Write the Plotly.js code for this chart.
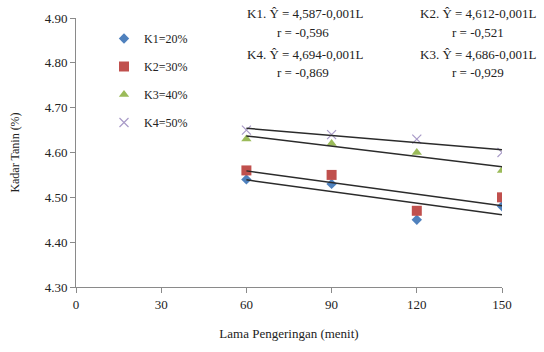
<!DOCTYPE html>
<html>
<head>
<meta charset="utf-8">
<script src="https://cdn.plot.ly/plotly-3.0.1.min.js"></script>
<style>html,body{margin:0;padding:0;background:#fff;}#chart{width:544px;height:352px;}</style>
</head>
<body>
<div id="chart"></div>
<script>
// Data
const lamaPengeringan = [60, 90, 120, 150];
const seriesNames = ['K1=20%', 'K2=30%', 'K3=40%', 'K4=50%'];
const k1 = [4.54, 4.53, 4.45, 4.48];
const k2 = [4.56, 4.55, 4.47, 4.50];
const k3 = [4.63, 4.62, 4.60, 4.56];
const k4 = [4.65, 4.64, 4.63, 4.60];
const xTicks = [0, 30, 60, 90, 120, 150];
const yTicks = [4.30, 4.40, 4.50, 4.60, 4.70, 4.80, 4.90];
const eqLabels = ['K1. Ŷ = 4,587-0,001L', 'r = -0,596', 'K4. Ŷ = 4,694-0,001L', 'r = -0,869',
                  'K2. Ŷ = 4,612-0,001L', 'r = -0,521', 'K3. Ŷ = 4,686-0,001L', 'r = -0,929'];

const seriesData = [k1, k2, k3, k4];
const colors = ['#4F81BD', '#C0504D', '#9BBB59', '#A99BC8'];
const symbols = ['diamond', 'square', 'triangle-up', 'x-thin'];
const sizes = [8, 10, 9, 9];

function linFit(x, y) {
  const n = x.length;
  const mx = x.reduce((a, b) => a + b, 0) / n;
  const my = y.reduce((a, b) => a + b, 0) / n;
  let sxy = 0, sxx = 0;
  for (let i = 0; i < n; i++) { sxy += (x[i] - mx) * (y[i] - my); sxx += (x[i] - mx) ** 2; }
  const b = sxy / sxx, a = my - b * mx;
  return x.map(v => a + b * v);
}

const traces = [];
seriesData.forEach((ys, i) => {
  traces.push({
    x: lamaPengeringan, y: ys, type: 'scatter', mode: 'markers', name: seriesNames[i],
    legendgroup: 'g' + i,
    marker: {symbol: symbols[i], size: sizes[i], color: colors[i],
             line: {color: colors[i], width: symbols[i] === 'x-thin' ? 1.2 : 0}}
  });
});
seriesData.forEach((ys, i) => {
  traces.push({
    x: lamaPengeringan, y: linFit(lamaPengeringan, ys), type: 'scatter', mode: 'lines',
    showlegend: false, hoverinfo: 'skip',
    line: {color: '#2b2b2b', width: 1.5}
  });
});

const FAM = "Liberation Serif";
const font = {family: FAM, size: 12, color: '#222'};
const ann = (t, x, y) => ({text: t, x: x, y: y, xref: 'paper', yref: 'paper', xanchor: 'center', yanchor: 'middle',
  showarrow: false, font: {family: FAM, size: 13, color: '#222'}});
const toPx = (px) => (px - 76) / 426;
const toPy = (py) => (287 - py) / 269;

const layout = {
  width: 544, height: 352,
  margin: {l: 76, r: 42, t: 18, b: 65},
  paper_bgcolor: '#fff', plot_bgcolor: '#fff',
  font: font,
  showlegend: true,
  legend: {x: toPx(104), y: toPy(24), xanchor: 'left', yanchor: 'top', traceorder: 'grouped',
           tracegroupgap: 9, bgcolor: 'rgba(0,0,0,0)', font: {family: FAM, size: 12, color: '#222'}},
  xaxis: {range: [0, 150], tickvals: xTicks, ticktext: xTicks.map(String),
          showline: true, linecolor: '#8a8a8a', linewidth: 1, showgrid: false, zeroline: false,
          ticks: 'outside', ticklen: 5, tickcolor: '#8a8a8a',
          tickfont: {family: FAM, size: 13, color: '#222'},
          title: {text: 'Lama Pengeringan (menit)', font: {family: FAM, size: 13, color: '#222'}, standoff: 18}},
  yaxis: {range: [4.30, 4.90], tickvals: yTicks, ticktext: yTicks.map(v => v.toFixed(2)),
          showline: true, linecolor: '#8a8a8a', linewidth: 1, showgrid: false, zeroline: false,
          ticks: 'outside', ticklen: 5, tickcolor: '#8a8a8a',
          tickfont: {family: FAM, size: 13, color: '#222'},
          title: {text: 'Kadar Tanin (%)', font: {family: FAM, size: 12, color: '#222'}, standoff: 22}},
  annotations: [
    ann(eqLabels[0], toPx(305), toPy(14)),
    ann(eqLabels[1], toPx(303), toPy(33)),
    ann(eqLabels[2], toPx(305), toPy(54)),
    ann(eqLabels[3], toPx(303), toPy(72)),
    ann(eqLabels[4], toPx(478), toPy(14)),
    ann(eqLabels[5], toPx(478), toPy(33)),
    ann(eqLabels[6], toPx(478), toPy(54)),
    ann(eqLabels[7], toPx(478), toPy(72))
  ]
};

Plotly.newPlot('chart', traces, layout, {displayModeBar: false, staticPlot: true});
</script>
</body>
</html>
